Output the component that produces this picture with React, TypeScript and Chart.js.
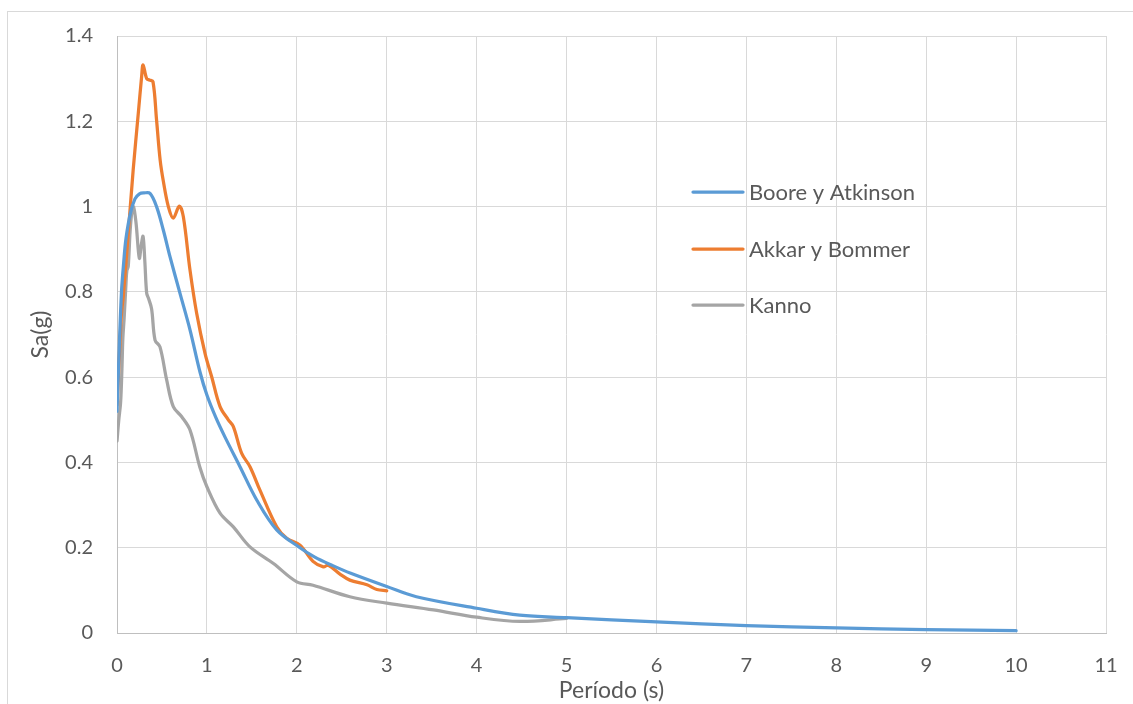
import React, { useEffect, useRef } from "react";
import { Chart, registerables } from "chart.js";

Chart.register(...registerables);

// Boore y Atkinson
const booreT = [0, 0.02, 0.05, 0.075, 0.1, 0.15, 0.2, 0.25, 0.3, 0.367, 0.44, 0.515, 0.59, 0.7, 0.812, 0.923, 1.0, 1.1, 1.2, 1.368, 1.554, 1.776, 2.035, 2.2, 2.4, 2.6, 3.0, 3.33, 4.0, 4.48, 5.0, 6.0, 7.0, 8.0, 9.0, 10.0];
const booreSa = [0.52, 0.64, 0.8, 0.87, 0.925, 0.985, 1.018, 1.03, 1.032, 1.031, 1.0, 0.945, 0.882, 0.797, 0.711, 0.612, 0.558, 0.505, 0.46, 0.39, 0.312, 0.242, 0.2, 0.178, 0.158, 0.14, 0.109, 0.085, 0.058, 0.042, 0.036, 0.026, 0.0175, 0.012, 0.008, 0.0055];

// Akkar y Bommer
const akkarT = [0, 0.033, 0.05, 0.07, 0.108, 0.18, 0.237, 0.274, 0.29, 0.33, 0.36, 0.4, 0.44, 0.48, 0.515, 0.571, 0.626, 0.693, 0.738, 0.812, 0.886, 0.979, 1.053, 1.146, 1.238, 1.294, 1.387, 1.479, 1.59, 1.776, 1.888, 2.036, 2.18, 2.295, 2.35, 2.48, 2.59, 2.78, 2.89, 3.0];
const akkarSa = [0.535, 0.68, 0.75, 0.79, 0.89, 1.086, 1.219, 1.305, 1.332, 1.3, 1.297, 1.293, 1.203, 1.109, 1.06, 1.0, 0.973, 1.001, 0.976, 0.851, 0.75, 0.656, 0.601, 0.531, 0.5, 0.484, 0.421, 0.39, 0.335, 0.249, 0.222, 0.206, 0.168, 0.155, 0.159, 0.138, 0.124, 0.113, 0.102, 0.099];

// Kanno
const kannoT = [0, 0.02, 0.04, 0.055, 0.065, 0.08, 0.1, 0.11, 0.125, 0.15, 0.18, 0.21, 0.248, 0.27, 0.29, 0.31, 0.33, 0.35, 0.385, 0.423, 0.478, 0.553, 0.626, 0.72, 0.812, 0.92, 1.0, 1.146, 1.294, 1.479, 1.74, 2.0, 2.18, 2.59, 3.0, 3.52, 4.0, 4.48, 5.0];
const kannoSa = [0.45, 0.5, 0.54, 0.62, 0.69, 0.74, 0.82, 0.85, 0.86, 0.955, 1.0, 0.965, 0.879, 0.91, 0.93, 0.87, 0.797, 0.785, 0.76, 0.687, 0.671, 0.593, 0.531, 0.507, 0.476, 0.39, 0.343, 0.281, 0.249, 0.202, 0.163, 0.12, 0.112, 0.085, 0.07, 0.054, 0.037, 0.027, 0.034];

const seriesNames = ["Boore y Atkinson", "Akkar y Bommer", "Kanno"];
const seriesColors = ["#5B9BD5", "#ED7D31", "#A5A5A5"];

const xTitle = "Período (s)";
const yTitle = "Sa(g)";

const FONT = "Lato, 'Noto Sans', sans-serif";
const TEXT = "#595959";

function toPoints(xs: number[], ys: number[]) {
  return xs.map((x, i) => ({ x, y: ys[i] }));
}

const legendPlugin = {
  id: "customLegend",
  afterDatasetsDraw(chart: any) {
    const ctx = chart.ctx;
    const ys = [192, 249, 305];
    ctx.save();
    ctx.font = `22px ${FONT}`;
    ctx.textBaseline = "middle";
    ctx.textAlign = "left";
    seriesNames.forEach((name, i) => {
      ctx.strokeStyle = seriesColors[i];
      ctx.lineWidth = 3.25;
      ctx.lineCap = "round";
      ctx.beginPath();
      ctx.moveTo(693, ys[i]);
      ctx.lineTo(743, ys[i]);
      ctx.stroke();
      ctx.fillStyle = TEXT;
      ctx.fillText(name, 749, ys[i] + 1);
    });
    ctx.restore();
  },
};

export default function App() {
  const ref = useRef<HTMLCanvasElement | null>(null);

  useEffect(() => {
    if (!ref.current) return;
    const data = [
      toPoints(booreT, booreSa),
      toPoints(akkarT, akkarSa),
      toPoints(kannoT, kannoSa),
    ];
    const chart = new Chart(ref.current, {
      type: "line",
      data: {
        datasets: data.map((d, i) => ({
          label: seriesNames[i],
          data: d,
          borderColor: seriesColors[i],
          backgroundColor: seriesColors[i],
          borderWidth: 3.25,
          pointRadius: 0,
          tension: 0.35,
          fill: false,
          borderCapStyle: "round" as const,
          borderJoinStyle: "round" as const,
        })),
      },
      options: {
        animation: false,
        responsive: false,
        devicePixelRatio: 1,
        layout: { padding: { top: 36, right: 27, left: 0, bottom: 0 } },
        plugins: {
          legend: { display: false },
          tooltip: { enabled: false },
        },
        scales: {
          x: {
            type: "linear",
            min: 0,
            max: 11,
            ticks: {
              stepSize: 1,
              color: TEXT,
              font: { family: FONT, size: 20 },
              padding: 3,
            },
            grid: {
              color: "#D9D9D9",
              lineWidth: 1,
              drawTicks: true,
              tickLength: 18,
              tickColor: "rgba(0,0,0,0)",
            },
            border: { color: "#BFBFBF", width: 1 },
            title: {
              display: true,
              text: xTitle,
              color: TEXT,
              font: { family: FONT, size: 23 },
              padding: { top: 0, bottom: 0 },
            },
            afterFit(scale: any) {
              scale.height = 71;
            },
          },
          y: {
            type: "linear",
            min: 0,
            max: 1.4,
            ticks: {
              stepSize: 0.2,
              color: TEXT,
              font: { family: FONT, size: 20 },
              padding: 3,
              callback: (v: any) => String(Math.round(Number(v) * 10) / 10),
            },
            grid: {
              color: "#D9D9D9",
              lineWidth: 1,
              drawTicks: true,
              tickLength: 21,
              tickColor: "rgba(0,0,0,0)",
            },
            border: { color: "#BFBFBF", width: 1 },
            title: {
              display: true,
              text: yTitle,
              color: TEXT,
              font: { family: FONT, size: 23 },
              padding: { top: 27, bottom: 0 },
            },
            afterFit(scale: any) {
              scale.width = 117;
            },
          },
        },
      },
      plugins: [legendPlugin],
    });
    return () => chart.destroy();
  }, []);

  return (
    <div
      style={{
        position: "fixed",
        left: 0,
        top: 0,
        width: 1133,
        height: 704,
        overflow: "hidden",
        background: "#ffffff",
      }}
    >
      <div
        style={{
          position: "absolute",
          left: 7,
          top: 11,
          width: 1200,
          height: 800,
          border: "1px solid #D9D9D9",
          boxSizing: "border-box",
        }}
      />
      <canvas
        ref={ref}
        width={1133}
        height={704}
        style={{ position: "absolute", left: 0, top: 0, width: 1133, height: 704 }}
      />
    </div>
  );
}
